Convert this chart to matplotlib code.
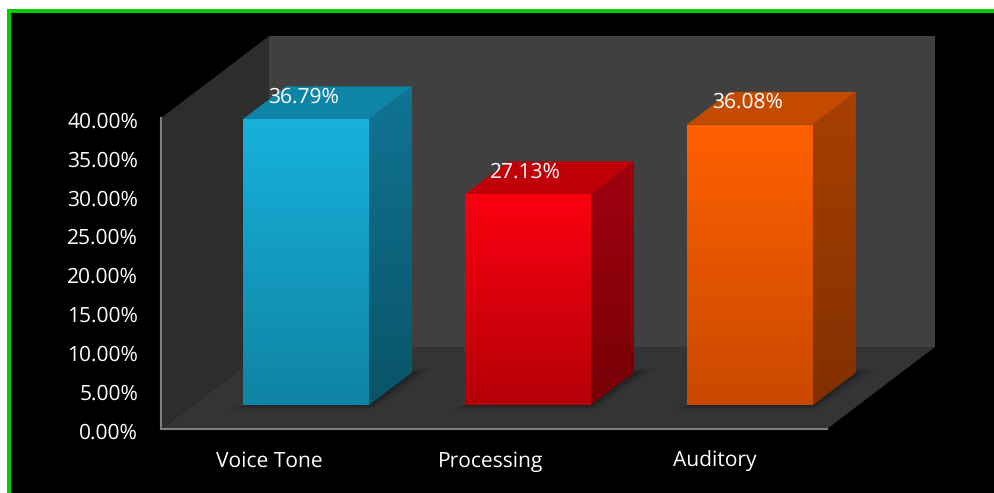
import numpy as np
import matplotlib
matplotlib.use('Agg')
import matplotlib.pyplot as plt
from matplotlib.patches import Polygon, Rectangle
from matplotlib.colors import to_rgb
from matplotlib.transforms import ScaledTranslation

# Chart values
categories = ['Voice Tone', 'Processing', 'Auditory']
values = [36.79, 27.13, 36.08]
value_labels = ['36.79%', '27.13%', '36.08%']
y_ticks = [0, 5, 10, 15, 20, 25, 30, 35, 40]
y_tick_labels = ['0.00%', '5.00%', '10.00%', '15.00%', '20.00%', '25.00%', '30.00%', '35.00%', '40.00%']

# Face colours: front top/bottom, side top/bottom, top face
front_top = ['#17b1dc', '#fb0010', '#ff6000']
front_bottom = ['#0f84a4', '#b50008', '#c94900']
side_top = ['#107493', '#a00010', '#a84000']
side_bottom = ['#0a5468', '#770006', '#823000']
top_face = ['#0e84a6', '#c00008', '#c44a00']

plt.rcParams['font.family'] = ['Open Sans', 'DejaVu Sans']
plt.rcParams['text.hinting'] = 'no_hinting'
plt.rcParams['text.hinting_factor'] = 1

W, H = 995, 493
x_px = 222.0          # pixels per category
y_px = 311.0 / 40     # pixels per percent
x0_px, y0_px = 161, 429
depth_x = 108 / x_px  # full floor depth in data units
depth_y = 82 / y_px
bar_width = 126 / x_px
bar_shift = 2.5 / x_px
bar_d0, bar_d1 = 0.29, 0.69


def proj(x, y, d):
    return (x + depth_x * d, y + depth_y * d)


fig = plt.figure(figsize=(W / 100, H / 100), dpi=100, facecolor='white')

# Green frame and black background
fig.patches.append(Rectangle((7 / W, 0), (W - 7) / W, (H - 9) / H, transform=fig.transFigure,
                             facecolor='#00cc00', edgecolor='none', figure=fig))
fig.patches.append(Rectangle((11 / W, 0), (W - 11) / W, (H - 13) / H, transform=fig.transFigure,
                             facecolor='black', edgecolor='none', figure=fig))

ax = fig.add_axes([0, 0, 1, 1], zorder=5)
ax.patch.set_visible(False)
xlim = (-x0_px / x_px, (W - x0_px) / x_px)
ylim = (-(H - y0_px) / y_px, y0_px / y_px)


def flat(points, color, z, alpha=1.0):
    ax.add_patch(Polygon(points, closed=True, facecolor=color, edgecolor='none', alpha=alpha, zorder=z))


def gradient(points, c_top, c_bottom, z):
    points = np.array(points)
    ramp = np.linspace(0, 1, 64)[:, None, None]
    img = (1 - ramp) * np.array(to_rgb(c_top))[None, None, :] + ramp * np.array(to_rgb(c_bottom))[None, None, :]
    im = ax.imshow(img, extent=(points[:, 0].min(), points[:, 0].max(), points[:, 1].min(), points[:, 1].max()),
                   aspect='auto', origin='upper', interpolation='bilinear', zorder=z)
    im.set_clip_path(Polygon(points, closed=True, transform=ax.transData))


# Walls and floor
flat([proj(0, 0, 1), proj(3, 0, 1), proj(3, 40, 1), proj(0, 40, 1)], '#404040', 1)
flat([proj(0, 0, 0), proj(0, 0, 1), proj(0, 40, 1), proj(0, 40, 0)], '#2d2d2d', 1)
flat([proj(0, 0, 0), proj(3, 0, 0), proj(3, 0, 1), proj(0, 0, 1)], '#343434', 1)

# Bars
for i, val in enumerate(values):
    x1 = i + 0.5 + bar_shift - bar_width / 2
    x2 = i + 0.5 + bar_shift + bar_width / 2

    # soft shadow on the floor
    for grow, a in [(0.05, 0.10), (0.03, 0.18), (0.015, 0.28)]:
        flat([proj(x1 - grow, 0, bar_d0 - grow), proj(x2 + grow, 0, bar_d0 - grow),
              proj(x2 + grow * 1.5, 0, bar_d1 + grow), proj(x2, 0, bar_d1 + grow)], '#101418', 2, a)

    gradient([proj(x2, 0, bar_d0), proj(x2, 0, bar_d1), proj(x2, val, bar_d1), proj(x2, val, bar_d0)],
             side_top[i], side_bottom[i], 3)
    flat([proj(x1, val, bar_d0), proj(x2, val, bar_d0), proj(x2, val, bar_d1), proj(x1, val, bar_d1)],
         top_face[i], 3)
    gradient([proj(x1, 0, bar_d0), proj(x2, 0, bar_d0), proj(x2, val, bar_d0), proj(x1, val, bar_d0)],
             front_top[i], front_bottom[i], 4)

    # value label
    lx, ly = proj(i + 0.5 + bar_shift, val, bar_d0)
    ax.annotate(value_labels[i], (lx, ly), xytext=(-1.5, 15.8), textcoords='offset points',
                ha='center', va='center', color='white', fontsize=14.8, zorder=6)

ax.set_xlim(xlim)
ax.set_ylim(ylim)

# Axes lines sit on the front edge of the box
for side in ['top', 'right']:
    ax.spines[side].set_visible(False)
ax.spines['left'].set_position(('data', 0))
ax.spines['bottom'].set_position(('data', 0))
ax.spines['left'].set_bounds(0, 40)
ax.spines['bottom'].set_bounds(0, 3)
ax.spines['left'].set_color('#808080')
ax.spines['bottom'].set_color('#808080')
ax.spines['left'].set_linewidth(1.5)
ax.spines['bottom'].set_linewidth(1.5)
ax.spines['left'].set_zorder(5)
ax.spines['bottom'].set_zorder(5)

ax.set_yticks(y_ticks)
ax.set_yticklabels(y_tick_labels, color='white', fontsize=14.8)
ax.set_xticks([0.49, 1.485, 2.495])
ax.set_xticklabels(categories, color='white', fontsize=14.8)
ax.tick_params(axis='y', length=0, pad=16.5)
ax.tick_params(axis='x', length=0, pad=16)

nudge = ScaledTranslation(0, -1.5 / 100, fig.dpi_scale_trans)
for label in ax.get_yticklabels():
    label.set_transform(label.get_transform() + nudge)

fig.savefig('out.png', dpi=100, facecolor='white')
